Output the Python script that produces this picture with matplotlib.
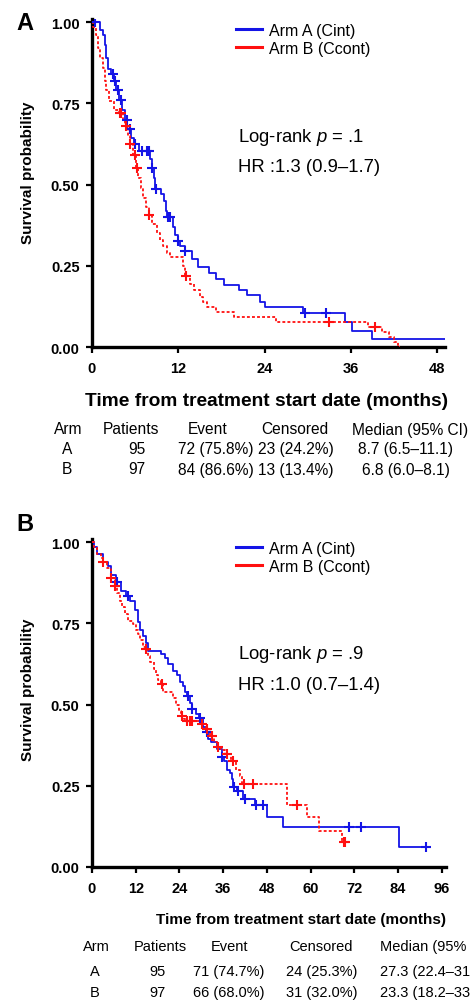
import numpy as np
import matplotlib
matplotlib.use("Agg")
import matplotlib.pyplot as plt
from matplotlib.lines import Line2D

plt.rcParams['font.family'] = ['Liberation Sans', 'DejaVu Sans']
plt.rcParams['mathtext.fontset'] = 'custom'
plt.rcParams['mathtext.rm'] = 'Liberation Sans'
plt.rcParams['mathtext.it'] = 'Liberation Sans:italic'

# ---------------- Data: Panel A ----------------
a_armA_t = [0, 1.1, 1.5, 1.8, 2.0, 2.2, 2.6, 3.0, 3.4, 3.8, 4.2, 4.6, 4.9, 5.4, 5.9, 6.6, 8.1, 8.3,
            8.6, 8.8, 9.6, 10.0, 10.3, 10.5, 11.3, 11.6, 11.9, 12.3, 12.9, 13.9, 14.8, 16.3, 17.3,
            18.3, 20.4, 21.6, 23.3, 24.1, 29.4, 35.2, 36.2, 39.0]
a_armA_s = [1.0, 0.975, 0.96, 0.93, 0.89, 0.855, 0.84, 0.82, 0.79, 0.76, 0.73, 0.70, 0.67, 0.645,
            0.625, 0.605, 0.58, 0.55, 0.52, 0.485, 0.47, 0.45, 0.42, 0.40, 0.37, 0.345, 0.325, 0.31,
            0.295, 0.27, 0.245, 0.228, 0.21, 0.19, 0.175, 0.16, 0.14, 0.123, 0.105, 0.078, 0.05, 0.025]
a_armA_end = 49.1
a_armA_cens = [0.4, 2.9, 3.2, 3.6, 4.1, 4.8, 5.3, 6.0, 6.9, 7.6, 7.9, 8.4, 8.85, 10.6, 10.8, 11.95,
               13.0, 29.6, 32.6]

a_armB_t = [0, 0.2, 0.5, 0.8, 1.1, 1.5, 1.8, 2.0, 2.3, 3.0, 3.7, 4.3, 4.6, 5.0, 5.3, 5.7, 6.1, 6.4,
            6.8, 7.1, 7.5, 7.9, 8.4, 9.0, 9.5, 9.9, 10.4, 10.8, 12.6, 13.0, 13.6, 14.2, 15.0, 15.5,
            16.0, 17.3, 19.7, 25.6, 38.4, 40.3, 41.3, 42.0, 42.6]
a_armB_s = [1.0, 0.985, 0.96, 0.92, 0.89, 0.86, 0.82, 0.79, 0.757, 0.73, 0.72, 0.70, 0.68, 0.65,
            0.625, 0.59, 0.55, 0.52, 0.49, 0.46, 0.43, 0.405, 0.38, 0.35, 0.33, 0.31, 0.29, 0.277,
            0.25, 0.22, 0.195, 0.175, 0.155, 0.14, 0.123, 0.107, 0.093, 0.077, 0.062, 0.046, 0.031,
            0.016, 0.0]
a_armB_end = 42.8
a_armB_cens = [3.9, 4.0, 4.7, 5.3, 6.0, 6.2, 7.9, 13.1, 33.0, 39.3]

# ---------------- Data: Panel B ----------------
b_armA_t = [0, 0.5, 1.5, 3.0, 4.4, 5.2, 6.6, 8.0, 9.2, 10.4, 11.8, 12.6, 13.3, 14.0, 14.7, 15.3,
            18.9, 20.0, 21.0, 22.3, 23.3, 24.2, 25.0, 25.6, 26.0, 26.8, 27.4, 28.5, 29.5, 30.5, 31.3,
            31.9, 32.6, 34.3, 35.7, 36.3, 37.0, 37.9, 38.4, 38.8, 39.8, 41.5, 44.8, 48.0, 52.4, 84.3]
b_armA_s = [1.0, 0.985, 0.965, 0.94, 0.926, 0.90, 0.877, 0.85, 0.835, 0.82, 0.79, 0.754, 0.73, 0.71,
            0.69, 0.665, 0.655, 0.645, 0.625, 0.605, 0.59, 0.57, 0.557, 0.54, 0.527, 0.505, 0.486,
            0.47, 0.46, 0.43, 0.415, 0.394, 0.385, 0.363, 0.34, 0.326, 0.30, 0.29, 0.27, 0.245,
            0.235, 0.21, 0.19, 0.155, 0.124, 0.062]
b_armA_end = 91.7
b_armA_cens = [6.9, 10.0, 26.4, 27.5, 29.7, 31.6, 35.8, 38.9, 40.1, 42.0, 45.0, 47.0, 70.6, 73.8, 91.7]

b_armB_t = [0, 0.5, 1.5, 2.5, 3.0, 4.0, 5.2, 6.3, 7.0, 7.7, 8.3, 9.0, 9.9, 11.3, 12.0, 12.6, 13.3,
            14.0, 14.8, 15.3, 15.9, 16.9, 17.5, 18.2, 19.0, 19.5, 22.3, 23.0, 23.8, 24.5, 25.3, 26.0,
            30.0, 31.2, 32.4, 33.4, 34.3, 35.5, 36.5, 38.3, 39.5, 40.6, 41.3, 53.5, 59.0, 62.2, 68.6]
b_armB_s = [1.0, 0.985, 0.965, 0.95, 0.94, 0.92, 0.89, 0.865, 0.845, 0.82, 0.80, 0.78, 0.757, 0.748,
            0.73, 0.717, 0.70, 0.677, 0.67, 0.65, 0.63, 0.61, 0.59, 0.575, 0.563, 0.54, 0.52, 0.50,
            0.48, 0.465, 0.455, 0.45, 0.44, 0.425, 0.404, 0.385, 0.37, 0.36, 0.348, 0.326, 0.30,
            0.28, 0.255, 0.19, 0.155, 0.11, 0.077]
b_armB_end = 69.6
b_armB_cens = [3.1, 5.3, 6.4, 14.9, 19.2, 24.8, 26.1, 26.9, 27.5, 30.2, 31.6, 33.0, 34.6, 37.0, 38.8,
               41.6, 44.3, 56.3, 69.2, 69.5]

legend_labels = ["Arm A (Cint)", "Arm B (Ccont)"]
y_ticks = [0.0, 0.25, 0.50, 0.75, 1.00]
y_ticklabels = ["0.00", "0.25", "0.50", "0.75", "1.00"]
a_x_ticks = [0, 12, 24, 36, 48]
b_x_ticks = [0, 12, 24, 36, 48, 60, 72, 84, 96]
a_stats = ["Log-rank $p$ = .1", "HR :1.3 (0.9\u20131.7)"]
b_stats = ["Log-rank $p$ = .9", "HR :1.0 (0.7\u20131.4)"]
a_header = ["Arm", "Patients", "Event", "Censored", "Median (95% CI)"]
a_table = [["A", "95", "72 (75.8%)", "23 (24.2%)", "8.7 (6.5\u201311.1)"],
           ["B", "97", "84 (86.6%)", "13 (13.4%)", "6.8 (6.0\u20138.1)"]]
# Panel B table is cut at the right edge in the source image; only the visible text is kept
b_header = ["Arm", "Patients", "Event", "Censored", "Median (95%"]
b_table = [["A", "95", "71 (74.7%)", "24 (25.3%)", "27.3 (22.4\u201331"],
           ["B", "97", "66 (68.0%)", "31 (32.0%)", "23.3 (18.2\u201333"]]

BLUE = "#1414e6"
RED = "#ff1010"

W, H = 471, 1003
fig = plt.figure(figsize=(W / 100, H / 100), dpi=100)


def fx(x):
    return x / W


def fy(y):
    return 1 - y / H


def surv_at(ts, ss, tc):
    ts = np.asarray(ts)
    ss = np.asarray(ss)
    idx = np.searchsorted(ts, np.asarray(tc), side="right") - 1
    return ss[idx]


def draw_panel(ax, armA, armB, xmax, xticks):
    (tA, sA, endA, cA), (tB, sB, endB, cB) = armA, armB
    ax.step(list(tA) + [endA], list(sA) + [sA[-1]], where="post", color=BLUE, lw=1.3, zorder=3)
    ax.step(list(tB) + [endB], list(sB) + [sB[-1]], where="post", color=RED, lw=1.3,
            linestyle=(0, (1.6, 1.2)), zorder=4)
    ax.plot(cA, surv_at(tA, sA, cA), linestyle="none", marker="+", ms=7, mew=1.5, color=BLUE, zorder=5)
    ax.plot(cB, surv_at(tB, sB, cB), linestyle="none", marker="+", ms=7, mew=1.5, color=RED, zorder=6)
    ax.set_xlim(0, xmax)
    ax.set_ylim(0, 1.01)
    ax.set_xticks(xticks)
    ax.set_xticklabels([str(v) for v in xticks], fontweight="bold", fontsize=10.5)
    ax.set_yticks(y_ticks)
    ax.set_yticklabels(y_ticklabels, fontweight="bold", fontsize=10.5)
    for s in ["top", "right"]:
        ax.spines[s].set_visible(False)
    for s in ["left", "bottom"]:
        ax.spines[s].set_linewidth(2.4)
    ax.tick_params(axis="both", direction="out", length=4, width=1.6, pad=5)
    ax.tick_params(axis="x", pad=6)


# Panel A
axA = fig.add_axes([fx(92), fy(348), fx(445) - fx(92), (348 - 20) / H])
draw_panel(axA, (a_armA_t, a_armA_s, a_armA_end, a_armA_cens),
           (a_armB_t, a_armB_s, a_armB_end, a_armB_cens), 49.1, a_x_ticks)
# Panel B
axB = fig.add_axes([fx(92), fy(868), fx(446) - fx(92), (868 - 540) / H])
draw_panel(axB, (b_armA_t, b_armA_s, b_armA_end, b_armA_cens),
           (b_armB_t, b_armB_s, b_armB_end, b_armB_cens), 97.2, b_x_ticks)

handles = [Line2D([], [], color=BLUE, lw=2.2), Line2D([], [], color=RED, lw=2.2)]
for ax, ytop in [(axA, 24), (axB, 542)]:
    fig.legend(handles, legend_labels, loc="upper left", bbox_to_anchor=(fx(236), fy(ytop)),
               bbox_transform=fig.transFigure, frameon=False, fontsize=11.5, handlelength=1.6,
               handletextpad=0.45, labelspacing=0.18, borderpad=0, borderaxespad=0)

# Stats text
for stats, y1, y2 in [(a_stats, 137, 168), (b_stats, 655, 686)]:
    fig.text(fx(238), fy(y1), stats[0], fontsize=13.3, va="center", ha="left")
    fig.text(fx(238), fy(y2), stats[1], fontsize=13.3, va="center", ha="left")

# Panel letters
fig.text(fx(25), fy(23), "A", fontsize=17, fontweight="bold", ha="center", va="center")
fig.text(fx(25), fy(525), "B", fontsize=17, fontweight="bold", ha="center", va="center")

# Y labels
fig.text(fx(28), fy(173), "Survival probability", rotation=90, fontsize=11, fontweight="bold",
         ha="center", va="center")
fig.text(fx(28), fy(690), "Survival probability", rotation=90, fontsize=11, fontweight="bold",
         ha="center", va="center")

# X labels
fig.text(fx(267), fy(402), "Time from treatment start date (months)", fontsize=13.8,
         fontweight="bold", ha="center", va="center")
fig.text(fx(301), fy(920), "Time from treatment start date (months)", fontsize=11,
         fontweight="bold", ha="center", va="center")

# Tables
a_hcols = [68, 131, 208, 295, 410]
a_vcols = [67, 137, 216, 296, 406]
a_rows = [430, 450, 470]
for j, h in enumerate(a_header):
    fig.text(fx(a_hcols[j]), fy(a_rows[0]), h, fontsize=11.2, ha="center", va="center")
for i, row in enumerate(a_table):
    for j, cell in enumerate(row):
        fig.text(fx(a_vcols[j]), fy(a_rows[i + 1]), cell, fontsize=11.2, ha="center", va="center")

b_hcols = [96, 160, 229, 321, 380]
b_vcols = [95, 157, 229, 322, 380]
b_rows = [947, 972, 993]
for j, h in enumerate(b_header):
    ha = "left" if j == 4 else "center"
    fig.text(fx(b_hcols[j]), fy(b_rows[0]), h, fontsize=10.5, ha=ha, va="center")
for i, row in enumerate(b_table):
    for j, cell in enumerate(row):
        ha = "left" if j == 4 else "center"
        fig.text(fx(b_vcols[j]), fy(b_rows[i + 1]), cell, fontsize=10.5, ha=ha, va="center")

fig.savefig("out.png", dpi=100)
